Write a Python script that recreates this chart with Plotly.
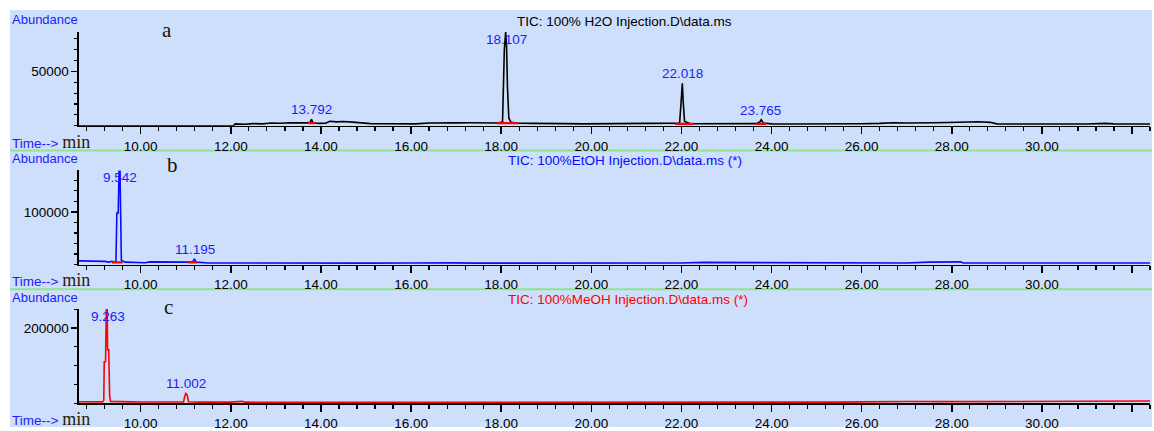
import plotly.graph_objects as go

W, H = 1154, 431

# ---------------- data ----------------
x_tick_vals = [10, 12, 14, 16, 18, 20, 22, 24, 26, 28, 30, 32]
x_tick_text = ["10.00", "12.00", "14.00", "16.00", "18.00", "20.00", "22.00",
               "24.00", "26.00", "28.00", "30.00", ""]

# panel a : 100% H2O (black trace)
a_time = [8.63, 12.05, 12.10, 12.30, 12.50, 12.70, 12.90, 13.10, 13.30, 13.50, 13.70,
          13.76, 13.79, 13.82, 13.95, 14.10, 14.20, 14.35, 14.50, 14.70, 14.90, 15.10,
          15.40, 15.80, 16.10, 16.40, 16.70, 17.00, 17.30, 17.60, 17.90, 18.03, 18.05,
          18.07, 18.10, 18.12, 18.14, 18.17, 18.22, 18.40, 18.70, 19.00, 19.40, 19.80,
          20.20, 20.60, 21.00, 21.40, 21.80, 21.96, 21.99, 22.02, 22.04, 22.07, 22.20,
          22.60, 23.00, 23.40, 23.65, 23.74, 23.77, 23.82, 24.00, 24.40, 24.80, 25.20,
          25.60, 26.00, 26.40, 26.70, 27.00, 27.30, 27.60, 27.90, 28.20, 28.40, 28.60,
          28.85, 29.00, 29.50, 30.00, 30.50, 31.00, 31.40, 31.60, 32.40]
a_abund = [0, 0, 1800, 1500, 2000, 1800, 2600, 2300, 2800, 2500, 2700,
           3200, 6000, 3000, 2200, 2400, 4200, 3600, 3900, 3400, 2600, 2000,
           1900, 1700, 1800, 2600, 2900, 2700, 2800, 2500, 2600, 3500, 29000,
           70000, 86000, 72000, 35000, 7000, 3200, 2400, 2200, 2300, 2000, 1800,
           1900, 1700, 1800, 1700, 1900, 2500, 20000, 39000, 22000, 4000, 1900,
           1800, 1700, 1800, 2000, 3500, 5500, 2500, 1800, 1700, 1600, 1700,
           1600, 1900, 2200, 2800, 2600, 3000, 2800, 3100, 3600, 3300, 3700,
           3200, 1800, 1700, 1600, 1800, 1700, 2200, 1800, 1700]
a_peaks = ["13.792", "18.107", "22.018", "23.765"]
a_peak_h = [6000, 86000, 39000, 5500]
a_int_start = [13.72, 17.91, 21.86, 23.65]
a_int_end = [13.88, 18.38, 22.27, 23.89]
a_int_level = [2500, 2500, 1800, 1800]

# panel b : 100% EtOH (blue trace)
b_time = [8.63, 9.00, 9.20, 9.30, 9.35, 9.45, 9.47, 9.50, 9.52, 9.54, 9.556, 9.57,
          9.65, 9.90, 10.10, 10.20, 10.50, 10.80, 10.90, 11.15, 11.19, 11.23, 11.50,
          12.00, 12.50, 13.00, 14.00, 15.00, 16.00, 16.50, 16.90, 17.50, 18.50, 20.00,
          21.00, 22.00, 22.50, 23.00, 23.50, 23.80, 25.00, 26.00, 27.00, 27.50, 28.20,
          28.25, 29.00, 30.00, 31.00, 32.40]
b_abund = [7000, 6500, 6000, 4500, 6000, 4500, 98000, 98000, 179000, 179000, 60000, 8000,
           4500, 4000, 3500, 5000, 4500, 5200, 4000, 4500, 10500, 4500, 3000,
           2800, 3500, 2800, 2600, 2700, 3000, 3800, 3200, 2600, 2500, 2500,
           2500, 3000, 4000, 3800, 3600, 2800, 2700, 2700, 2800, 4500, 5000,
           3000, 2800, 3000, 2900, 3000]
b_peaks = ["9.542", "11.195"]
b_peak_h = [179000, 10500]
b_int_start = [9.36, 11.05]
b_int_end = [9.60, 11.25]
b_int_level = [4000, 4000]

# panel c : 100% MeOH (red trace)
c_time = [8.63, 9.00, 9.15, 9.18, 9.19, 9.22, 9.235, 9.255, 9.265, 9.29, 9.31, 9.33,
          9.40, 9.60, 9.80, 10.00, 10.50, 10.95, 10.98, 11.00, 11.03, 11.06, 11.30,
          12.00, 12.25, 12.30, 13.00, 14.00, 15.00, 15.50, 16.00, 17.00, 18.00, 19.00,
          20.00, 22.00, 24.00, 25.50, 26.00, 26.50, 27.00, 28.00, 29.00, 29.20, 30.00,
          31.00, 32.00, 32.40]
c_abund = [4000, 3800, 3500, 8000, 110000, 110000, 250000, 250000, 142000, 142000, 20000, 5000,
           4500, 3800, 3500, 3200, 3000, 3200, 20000, 26000, 22000, 4000, 3000,
           2800, 5000, 2800, 2700, 2600, 2600, 3200, 2600, 2800, 3000, 2600,
           2500, 2500, 2500, 2800, 3500, 4200, 4500, 4200, 4500, 5800, 6000,
           5500, 6000, 5800]
c_peaks = ["9.263", "11.002"]
c_peak_h = [250000, 26000]

titles = ["TIC: 100% H2O Injection.D\\data.ms",
          "TIC: 100%EtOH Injection.D\\data.ms (*)",
          "TIC: 100%MeOH Injection.D\\data.ms (*)"]
panel_letters = ["a", "b", "c"]
y_major = [[50000], [100000], [200000]]
y_major_text = [["50000"], ["100000"], ["200000"]]
y_minor_step = [10000, 20000, 50000]
y_max = [86400, 179000, 250000]

# ---------------- style / layout ----------------
BG = "#cddffa"
SANS = "Liberation Sans"
SERIF = "Liberation Serif"
LABEL_BLUE = "#1c1cff"
line_colors = ["#000000", "#0a0aff", "#ff0000"]
title_colors = ["#000000", "#0a0aff", "#ff0000"]

def px(x):
    return x / W

def py(y):
    return 1 - y / H

# panel pixel geometry: (top of y axis, baseline)
panels = [(32, 127), (172, 267), (312, 407)]
x_left, x_right = 79, 1150
X_RANGE = [8.63, 32.4]

fig = go.Figure()

series = [(a_time, a_abund), (b_time, b_abund), (c_time, c_abund)]
for i, (t, v) in enumerate(series):
    suf = "" if i == 0 else str(i + 1)
    fig.add_trace(go.Scatter(x=t, y=v, mode="lines",
                             line=dict(color=line_colors[i], width=1.6),
                             xaxis="x" + suf, yaxis="y" + suf, hoverinfo="skip"))

# integration baseline markers (red)
for i, (s, e, lv) in enumerate([(a_int_start, a_int_end, a_int_level),
                                 (b_int_start, b_int_end, b_int_level)]):
    suf = "" if i == 0 else str(i + 1)
    xs, ys = [], []
    for s0, e0, l0 in zip(s, e, lv):
        xs += [s0, e0, None]
        ys += [l0, l0, None]
    fig.add_trace(go.Scatter(x=xs, y=ys, mode="lines",
                             line=dict(color="#ff0000", width=2.2),
                             xaxis="x" + suf, yaxis="y" + suf, hoverinfo="skip"))

layout = dict(
    width=W, height=H, autosize=False,
    margin=dict(l=0, r=0, t=0, b=0, pad=0),
    paper_bgcolor="white", plot_bgcolor="rgba(0,0,0,0)",
    showlegend=False,
    font=dict(family=SANS, size=13, color="black"),
)

for i, (top, base) in enumerate(panels):
    suf = "" if i == 0 else str(i + 1)
    layout["xaxis" + suf] = dict(
        domain=[px(x_left), px(x_right)], range=X_RANGE, anchor="y" + suf,
        tickmode="array", tickvals=x_tick_vals, ticktext=x_tick_text,
        ticks="outside", ticklen=7, tickwidth=1.5, tickcolor="black",
        showline=True, linecolor="black", linewidth=1.6,
        showgrid=False, zeroline=False, fixedrange=True,
        tickfont=dict(family=SANS, size=13.5, color="black"),
        minor=dict(dtick=0.4, tick0=0, ticks="outside", ticklen=4,
                   tickwidth=1.2, tickcolor="black", showgrid=False),
    )
    layout["yaxis" + suf] = dict(
        domain=[py(base), py(top)], range=[0, y_max[i]], anchor="x" + suf,
        tickmode="array", tickvals=y_major[i], ticktext=y_major_text[i],
        ticks="outside", ticklen=6, tickwidth=1.3, tickcolor="black",
        showline=True, linecolor="black", linewidth=1.6,
        showgrid=False, zeroline=False, fixedrange=True,
        tickfont=dict(family=SANS, size=13.5, color="black"),
        minor=dict(dtick=y_minor_step[i], tick0=0, ticks="outside", ticklen=3,
                   tickwidth=1.1, tickcolor="black", showgrid=False),
    )

shapes = [dict(type="rect", xref="paper", yref="paper", x0=px(10), x1=px(1152),
               y0=0, y1=py(10), fillcolor=BG, line=dict(width=0), layer="below")]
for gy in (152, 292):
    shapes.append(dict(type="line", xref="paper", yref="paper", x0=px(10), x1=px(1152),
                       y0=py(gy), y1=py(gy), line=dict(color="#8fe58f", width=2),
                       layer="below"))
layout["shapes"] = shapes

ann = []
title_x = [515, 506, 506]
letter_pos = [(167, 30), (172, 167), (168, 310)]
for i, (top, base) in enumerate(panels):
    ann.append(dict(text="Abundance", xref="paper", yref="paper", x=px(10), y=py(top - 12),
                    xanchor="left", yanchor="middle", showarrow=False,
                    font=dict(family=SANS, size=13, color=LABEL_BLUE)))
    ann.append(dict(text='Time--> <span style="font-family:Liberation Serif;font-size:18px;color:#2a1a08">min</span>',
                    xref="paper", yref="paper", x=px(10), y=py(base + 16),
                    xanchor="left", yanchor="middle", showarrow=False,
                    font=dict(family=SANS, size=13.5, color=LABEL_BLUE)))
    ann.append(dict(text=titles[i], xref="paper", yref="paper", x=px(title_x[i]),
                    y=py(top - 10), xanchor="left", yanchor="middle", showarrow=False,
                    font=dict(family=SANS, size=13.5, color=title_colors[i])))
    lx, ly = letter_pos[i]
    ann.append(dict(text=panel_letters[i], xref="paper", yref="paper", x=px(lx), y=py(ly),
                    xanchor="center", yanchor="middle", showarrow=False,
                    font=dict(family=SERIF, size=21, color="#1a1208")))

for i, (labels, heights) in enumerate([(a_peaks, a_peak_h), (b_peaks, b_peak_h),
                                       (c_peaks, c_peak_h)]):
    suf = "" if i == 0 else str(i + 1)
    for lab, h in zip(labels, heights):
        if h >= 0.9 * y_max[i]:
            yy, anchor, shift = y_max[i], "top", 2
        else:
            yy, anchor, shift = h, "bottom", 0
        ann.append(dict(text=lab, xref="x" + suf, yref="y" + suf, x=float(lab), y=yy,
                        xanchor="center", yanchor=anchor, yshift=shift, showarrow=False,
                        font=dict(family=SANS, size=13.5, color=LABEL_BLUE)))
layout["annotations"] = ann

fig.update_layout(**layout)
fig.write_html("out.html", config={"displayModeBar": False, "staticPlot": True},
               post_script="document.body.style.margin='0px';document.body.style.overflow='hidden';")
